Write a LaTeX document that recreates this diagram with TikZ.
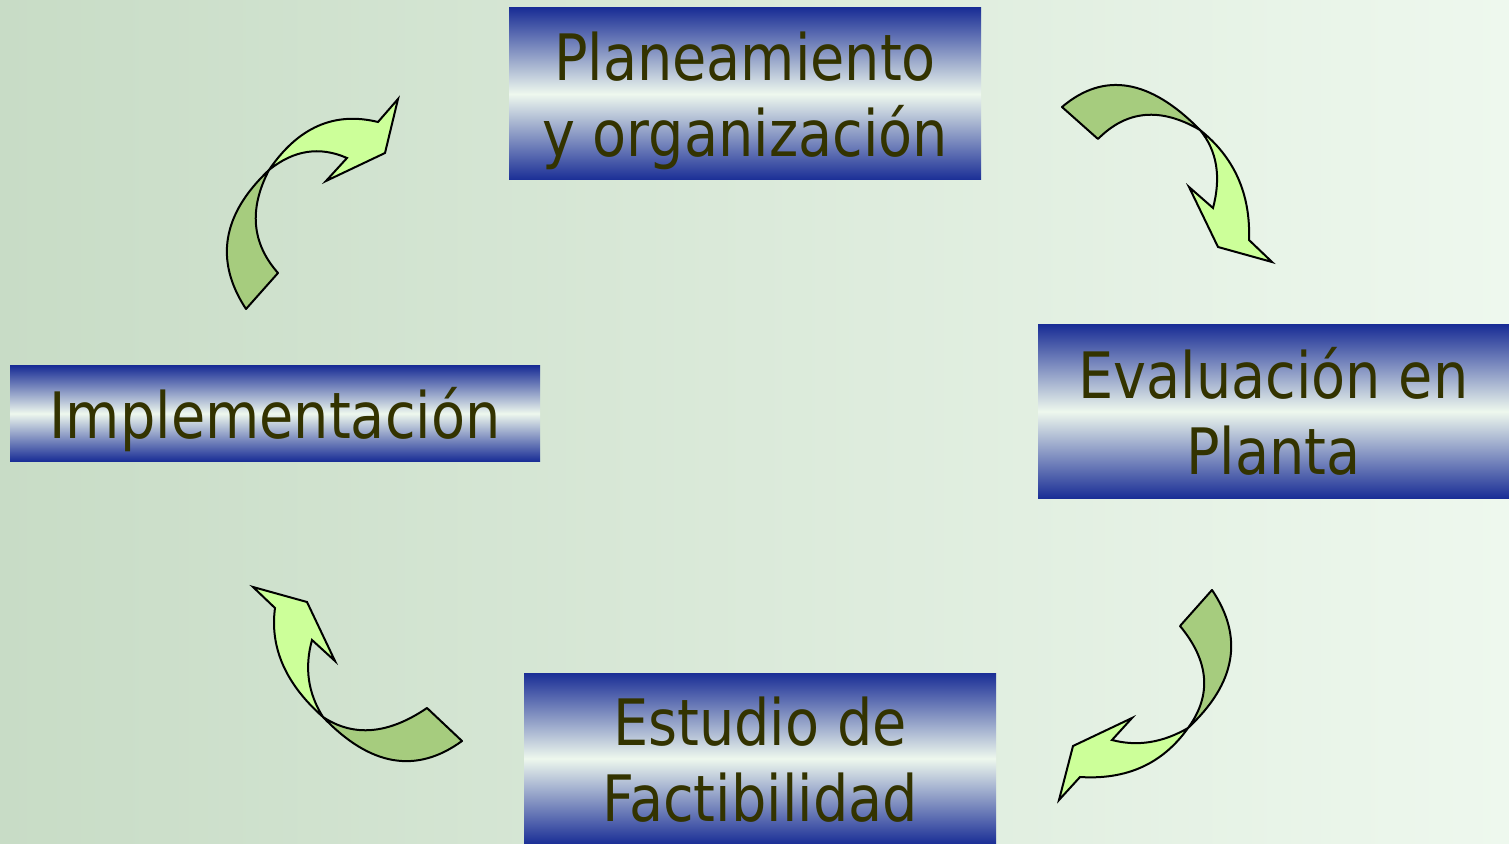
\documentclass[tikz,border=0pt]{standalone}
\usepackage{fontspec}
\setmainfont[FakeStretch=0.87]{DejaVu Sans}
\definecolor{bgleft}{RGB}{200,220,198}
\definecolor{bgright}{RGB}{238,248,238}
\definecolor{boxblue}{RGB}{26,46,150}
\definecolor{boxlight}{RGB}{238,248,238}
\definecolor{textolive}{RGB}{51,51,0}
\definecolor{tailgreen}{RGB}{166,204,126}
\definecolor{headgreen}{RGB}{204,255,153}
\newcommand{\linetop}{\rule{0pt}{33.8pt}}
\newcommand{\linebot}{\rule[-9pt]{0pt}{9pt}}
\begin{document}
\begin{tikzpicture}[x=0.5pt, y=-0.5pt, box/.style={inner sep=0pt, top color=boxblue, bottom color=boxblue, middle color=boxlight, text=textolive, align=center, font=\fontsize{32}{38}\selectfont}, tail/.style={draw, line width=1pt, fill=tailgreen, line join=round}, head/.style={draw, line width=1pt, fill=headgreen}]
		      \fill[left color=bgleft, right color=bgright] (0,0) rectangle (1509,844);
		      \node[box, minimum width=236pt, minimum height=86pt] (plan) at (745,94) {\linetop Planeamiento\\y organización\linebot};
		      \node[box, minimum width=235.5pt, minimum height=86.5pt] (eval) at (1273.5,411.5) {\linetop Evaluación en\\Planta\linebot};
		      \node[box, minimum width=236pt, minimum height=85.5pt] (estudio) at (760,758.5) {\linetop Estudio de\\Factibilidad\linebot};
		      \node[box, minimum width=265pt, minimum height=47.5pt] (impl) at (275,413.5) {\linetop Implementación\linebot};
		      % plan -> eval
		      \draw[tail] (1062,107) .. controls (1104,71.3) and (1150,79) .. (1200,130) .. controls (1160.7,107) and (1126.7,110) .. (1098,139) -- cycle;
		      \draw[head] (1200,130) .. controls (1234.3,157.3) and (1250.7,194) .. (1249,240) -- (1272,262) -- (1218,247) -- (1189,187) -- (1213,208) .. controls (1221.3,176.7) and (1217,150.7) .. (1200,130) -- cycle;
		      % eval -> estudio
		      \draw[tail] (1212,590) .. controls (1244,637.3) and (1236,683.3) .. (1188,728) .. controls (1212,695.3) and (1209.3,661.3) .. (1180,626) -- cycle;
		      \draw[head] (1188,728) .. controls (1162.7,763.7) and (1126.7,780) .. (1080,777) -- (1059,800) -- (1073,746) -- (1132,718) -- (1112,740) .. controls (1137.3,746.7) and (1162.7,742.7) .. (1188,728) -- cycle;
		      % estudio -> impl
		      \draw[tail] (462,741) .. controls (416.3,774.3) and (370,766.3) .. (323,717) .. controls (353.7,737.3) and (388.3,734.3) .. (427,708) -- cycle;
		      \draw[head] (323,717) .. controls (285.7,684) and (269.7,647.7) .. (275,608) -- (253,587) -- (307,602) -- (335,661) -- (312,640) .. controls (304.3,667.7) and (308,693.3) .. (323,717) -- cycle;
		      % impl -> plan
		      \draw[tail] (246,309) .. controls (214.3,260.7) and (222,214.3) .. (269,170) .. controls (248.7,209) and (251.7,243.3) .. (278,273) -- cycle;
		      \draw[head] (269,170) .. controls (298,127.3) and (334.3,111.3) .. (378,122) -- (398,99) -- (385,153) -- (326,181) -- (347,158) .. controls (319.7,146) and (293.7,150) .. (269,170) -- cycle;
		    \end{tikzpicture}
\end{document}
